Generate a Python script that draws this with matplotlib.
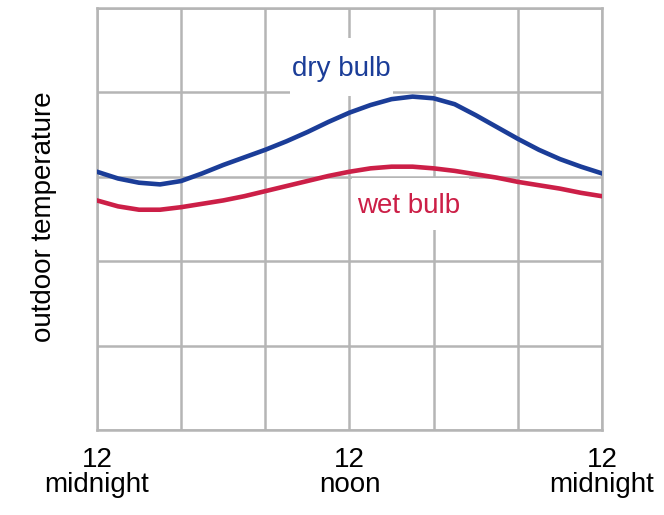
import matplotlib.pyplot as plt
from matplotlib.patches import Rectangle

plt.rcParams['font.family'] = ['Liberation Sans', 'DejaVu Sans']

# hours from midnight to midnight
hours = list(range(25))
dry_bulb = [3.06, 2.98, 2.93, 2.91, 2.95, 3.04, 3.14, 3.23, 3.32, 3.42, 3.53, 3.65, 3.76,
            3.85, 3.92, 3.95, 3.93, 3.86, 3.73, 3.59, 3.45, 3.32, 3.21, 3.12, 3.04]
wet_bulb = [2.72, 2.65, 2.61, 2.61, 2.64, 2.68, 2.72, 2.77, 2.83, 2.89, 2.95, 3.01, 3.06,
            3.10, 3.12, 3.12, 3.10, 3.07, 3.03, 2.99, 2.94, 2.90, 2.86, 2.81, 2.77]
tick_hours = [0, 12, 24]
tick_labels = ["12\nmidnight", "12\nnoon", "12\nmidnight"]

grid_color = "#b5b5b5"
blue = "#1b3d98"
red = "#cc1f47"

fig = plt.figure(figsize=(6.64, 5.15), dpi=100)
ax = fig.add_axes([0.146, 0.165, 0.7606, 0.8195])

ax.set_xlim(0, 24)
ax.set_ylim(0, 5)
ax.set_xticks(range(0, 25, 4))
ax.set_yticks(range(0, 6))
ax.grid(True, color=grid_color, linewidth=1.8)
ax.set_axisbelow(True)
for s in ax.spines.values():
    s.set_color(grid_color)
    s.set_linewidth(1.8)
ax.tick_params(length=0, labelleft=False, labelbottom=False)

# tick labels at midnight / noon / midnight
for h, lab in zip(tick_hours, tick_labels):
    ax.text(h, -0.2, lab, ha="center", va="top", fontsize=20, linespacing=0.95,
            clip_on=False)

# white boxes behind the labels
ax.add_patch(Rectangle((9.17, 3.96), 4.9, 0.68, facecolor="white", edgecolor="none", zorder=1.5))
ax.add_patch(Rectangle((12.1, 2.37), 5.6, 0.61, facecolor="white", edgecolor="none", zorder=1.5))

ax.plot(hours, dry_bulb, color=blue, linewidth=3.3, solid_joinstyle="round", zorder=3)
ax.plot(hours, wet_bulb, color=red, linewidth=3.3, solid_joinstyle="round", zorder=3)

ax.text(11.6, 4.28, "dry bulb", color=blue, fontsize=20, ha="center", va="center", zorder=4)
ax.text(14.8, 2.65, "wet bulb", color=red, fontsize=20, ha="center", va="center", zorder=4)

ax.set_ylabel("outdoor temperature", fontsize=20)
ax.yaxis.set_label_coords(-0.08, 0.505)

fig.savefig("out.png", dpi=100)
